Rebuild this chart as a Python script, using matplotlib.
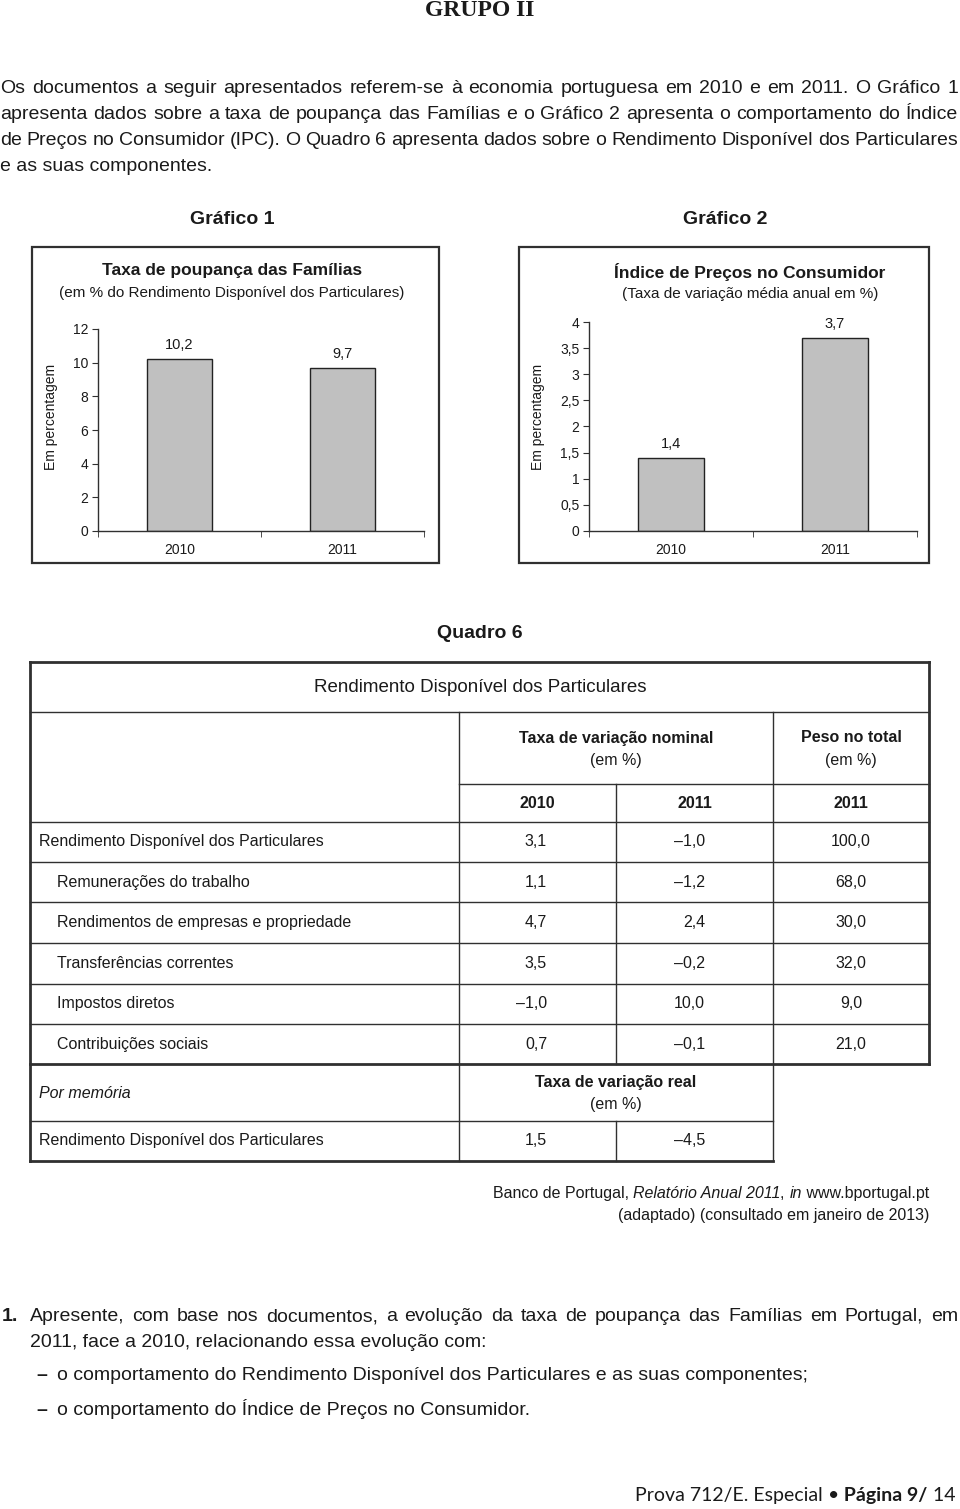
import matplotlib
matplotlib.use("Agg")
import matplotlib.pyplot as plt
from matplotlib.patches import Rectangle

plt.rcParams['font.family'] = ['Liberation Sans', 'DejaVu Sans']

W, H = 960, 1509

# chart data
years = ['2010', '2011']
poupanca = [10.2, 9.7]
ipc = [1.4, 3.7]

# table data (Quadro 6)
row_labels = ['Rendimento Disponível dos Particulares', 'Remunerações do trabalho',
              'Rendimentos de empresas e propriedade', 'Transferências correntes',
              'Impostos diretos', 'Contribuições sociais']
row_indent = [0, 1, 1, 1, 1, 1]
nominal_2010 = [3.1, 1.1, 4.7, 3.5, -1.0, 0.7]
nominal_2011 = [-1.0, -1.2, 2.4, -0.2, 10.0, -0.1]
peso_2011 = [100.0, 68.0, 30.0, 32.0, 9.0, 21.0]
real_2010 = 1.5
real_2011 = -4.5

intro = [
    "Os documentos a seguir apresentados referem-se à economia portuguesa em 2010 e em 2011. O Gráfico 1",
    "apresenta dados sobre a taxa de poupança das Famílias e o Gráfico 2 apresenta o comportamento do Índice",
    "de Preços no Consumidor (IPC). O Quadro 6 apresenta dados sobre o Rendimento Disponível dos Particulares",
    "e as suas componentes.",
]
question = [
    "Apresente, com base nos documentos, a evolução da taxa de poupança das Famílias em Portugal, em",
    "2011, face a 2010, relacionando essa evolução com:",
]
bullets = [
    "o comportamento do Rendimento Disponível dos Particulares e as suas componentes;",
    "o comportamento do Índice de Preços no Consumidor.",
]

TXT = '#1a1a1a'
LINE = '#303030'


def fmt(v):
    s = f"{abs(v):.1f}".replace('.', ',')
    return ('–' + s) if v < 0 else s


fig = plt.figure(figsize=(W / 100, H / 100), dpi=100)
bg = fig.add_axes([0, 0, 1, 1])
bg.set_xlim(0, W)
bg.set_ylim(H, 0)
bg.axis('off')
renderer = fig.canvas.get_renderer()


def justify(line, x0, x1, y, **kw):
    # y is the baseline
    words = line.split()
    ts = [bg.text(0, y, w, ha='left', va='baseline', color=TXT, **kw) for w in words]
    ws = [t.get_window_extent(renderer=renderer).width for t in ts]
    gap = (x1 - x0 - sum(ws)) / (len(ws) - 1)
    x = x0
    for t, w in zip(ts, ws):
        t.set_x(x)
        x += w + gap


def segments(parts, x_right, y, size, family=None):
    ts = []
    for s, style, weight in parts:
        kw = dict(style=style, weight=weight, fontsize=size, ha='left', va='baseline', color=TXT)
        if family:
            kw['family'] = family
        ts.append(bg.text(0, y, s, **kw))
    ws = [t.get_window_extent(renderer=renderer).width for t in ts]
    x = x_right - sum(ws)
    for t, w in zip(ts, ws):
        t.set_x(x)
        x += w


# header and intro
bg.text(480, 10, 'GRUPO II', family=['Liberation Serif', 'DejaVu Serif'], weight='bold',
        fontsize=17, ha='center', va='center', color=TXT)
base = [93, 119, 145, 171]
for i, line in enumerate(intro):
    if i < len(intro) - 1:
        justify(line, 0, 958, base[i], fontsize=14)
    else:
        bg.text(0, base[i], line, fontsize=14, ha='left', va='baseline', color=TXT)

# ---- charts
bg.text(232, 220, 'Gráfico 1', weight='bold', fontsize=14, ha='center', va='center', color=TXT)
bg.text(725, 220, 'Gráfico 2', weight='bold', fontsize=14, ha='center', va='center', color=TXT)
bg.add_patch(Rectangle((32, 247), 407, 316, fill=False, lw=1.6, ec=LINE))
bg.add_patch(Rectangle((519, 247), 410, 316, fill=False, lw=1.6, ec=LINE))

bg.text(232, 271, 'Taxa de poupança das Famílias', weight='bold', fontsize=12.5,
        ha='center', va='center', color=TXT)
bg.text(232, 293, '(em % do Rendimento Disponível dos Particulares)', fontsize=11,
        ha='center', va='center', color=TXT)
bg.text(750, 272, 'Índice de Preços no Consumidor', weight='bold', fontsize=12.5,
        ha='center', va='center', color=TXT)
bg.text(750, 294, '(Taxa de variação média anual em %)', fontsize=11,
        ha='center', va='center', color=TXT)
bg.text(51, 417, 'Em percentagem', rotation=90, fontsize=10, ha='center', va='center', color=TXT)
bg.text(538, 417, 'Em percentagem', rotation=90, fontsize=10, ha='center', va='center', color=TXT)


def bar_chart(rect, values, ymax, step, labels):
    ax = fig.add_axes(rect)
    x = list(range(len(values)))
    ax.bar(x, values, width=0.4, color='#c0c0c0', edgecolor='#222222', linewidth=1)
    for xi, v in zip(x, values):
        ax.annotate(fmt(v), (xi, v), xytext=(0, 10), textcoords='offset points',
                    ha='center', va='center', fontsize=10.5, color=TXT)
    ax.set_xlim(-0.5, len(values) - 0.5)
    ax.set_ylim(0, ymax)
    n = int(round(ymax / step))
    ticks = [i * step for i in range(n + 1)]
    ax.set_yticks(ticks)
    ax.set_yticklabels([fmt(t).replace(',0', '') if float(t).is_integer() else fmt(t) for t in ticks])
    ax.set_xticks(x)
    ax.set_xticklabels(labels)
    ax.set_xticks([-0.5 + i for i in range(len(values) + 1)], minor=True)
    ax.tick_params(axis='x', which='major', length=0, pad=9, labelsize=10, colors=TXT)
    ax.tick_params(axis='x', which='minor', length=4, direction='out', color=LINE)
    ax.tick_params(axis='y', length=4, pad=3, labelsize=10, colors=TXT, color=LINE)
    for s in ['top', 'right']:
        ax.spines[s].set_visible(False)
    for s in ['left', 'bottom']:
        ax.spines[s].set_color(LINE)
        ax.spines[s].set_linewidth(1)
    ax.patch.set_alpha(0)
    return ax


bar_chart([98 / W, 1 - 531 / H, (424 - 98) / W, (531 - 329) / H], poupanca, 12, 2, years)
bar_chart([589 / W, 1 - 531 / H, (917 - 589) / W, (531 - 322) / H], ipc, 4, 0.5, years)

# ---- Quadro 6
bg.text(480, 634, 'Quadro 6', weight='bold', fontsize=14, ha='center', va='center', color=TXT)

L, C1, C2, C3, R = 30, 459, 616, 773, 929
thick, thin = 2.0, 1.0
bg.plot([L, R], [662, 662], color=LINE, lw=thick)
bg.plot([L, L], [662, 1161], color=LINE, lw=thick)
bg.plot([R, R], [662, 1064], color=LINE, lw=thick)
bg.plot([L, R], [712, 712], color=LINE, lw=thin)
bg.plot([C1, R], [784, 784], color=LINE, lw=thin)
row_lines = [822, 862, 902, 943, 984, 1024]
for yl in row_lines:
    bg.plot([L, R], [yl, yl], color=LINE, lw=thin)
bg.plot([L, R], [1064, 1064], color=LINE, lw=thick)
bg.plot([L, C3], [1121, 1121], color=LINE, lw=thin)
bg.plot([L, C3], [1161, 1161], color=LINE, lw=thick)
bg.plot([C1, C1], [712, 1161], color=LINE, lw=thin)
bg.plot([C2, C2], [784, 1064], color=LINE, lw=thin)
bg.plot([C2, C2], [1121, 1161], color=LINE, lw=thin)
bg.plot([C3, C3], [712, 1161], color=LINE, lw=thin)

fs = 11.5
bg.text(480, 687, 'Rendimento Disponível dos Particulares', fontsize=13.5,
        ha='center', va='center', color=TXT)
bg.text((C1 + C3) / 2, 738, 'Taxa de variação nominal', weight='bold', fontsize=fs,
        ha='center', va='center', color=TXT)
bg.text((C1 + C3) / 2, 760, '(em %)', fontsize=fs, ha='center', va='center', color=TXT)
bg.text((C3 + R) / 2, 738, 'Peso no total', weight='bold', fontsize=fs,
        ha='center', va='center', color=TXT)
bg.text((C3 + R) / 2, 760, '(em %)', fontsize=fs, ha='center', va='center', color=TXT)
for xc, yr in zip([(C1 + C2) / 2, (C2 + C3) / 2, (C3 + R) / 2], ['2010', '2011', '2011']):
    bg.text(xc, 803, yr, weight='bold', fontsize=fs, ha='center', va='center', color=TXT)

row_y = [846, 887, 927, 968, 1008, 1049]  # baselines
for i, lab in enumerate(row_labels):
    y = row_y[i]
    bg.text(39 + 18 * row_indent[i], y, lab, fontsize=fs, ha='left', va='baseline', color=TXT)
    bg.text(547, y, fmt(nominal_2010[i]), fontsize=fs, ha='right', va='baseline', color=TXT)
    bg.text(705, y, fmt(nominal_2011[i]), fontsize=fs, ha='right', va='baseline', color=TXT)
    bg.text((C3 + R) / 2, y, fmt(peso_2011[i]), fontsize=fs, ha='center', va='baseline', color=TXT)

bg.text(39, 1093, 'Por memória', style='italic', fontsize=fs, ha='left', va='center', color=TXT)
bg.text((C1 + C3) / 2, 1082, 'Taxa de variação real', weight='bold', fontsize=fs,
        ha='center', va='center', color=TXT)
bg.text((C1 + C3) / 2, 1104, '(em %)', fontsize=fs, ha='center', va='center', color=TXT)
bg.text(39, 1145, row_labels[0], fontsize=fs, ha='left', va='baseline', color=TXT)
bg.text(547, 1145, fmt(real_2010), fontsize=fs, ha='right', va='baseline', color=TXT)
bg.text(705, 1145, fmt(real_2011), fontsize=fs, ha='right', va='baseline', color=TXT)

# source
segments([('Banco de Portugal, ', 'normal', 'normal'),
          ('Relatório Anual 2011', 'italic', 'normal'),
          (', ', 'normal', 'normal'),
          ('in', 'italic', 'normal'),
          (' www.bportugal.pt', 'normal', 'normal')], 929, 1198, fs)
bg.text(929, 1220, '(adaptado) (consultado em janeiro de 2013)', fontsize=fs,
        ha='right', va='baseline', color=TXT)

# question
bg.text(2, 1321, '1.', weight='bold', fontsize=14, ha='left', va='baseline', color=TXT)
justify(question[0], 30, 958, 1321, fontsize=14)
bg.text(30, 1347, question[1], fontsize=14, ha='left', va='baseline', color=TXT)
for yb, b in zip([1380, 1415], bullets):
    bg.text(36, yb, '–', weight='bold', fontsize=14, ha='left', va='baseline', color=TXT)
    bg.text(57, yb, b, fontsize=14, ha='left', va='baseline', color=TXT)

# footer
segments([('Prova 712/E. Especial ', 'normal', 'normal'),
          ('•', 'normal', 'normal'),
          (' Página 9/', 'normal', 'bold'),
          (' 14', 'normal', 'normal')], 955, 1501, 14, family=['Lato', 'DejaVu Sans'])

fig.savefig('out.png', dpi=100)
